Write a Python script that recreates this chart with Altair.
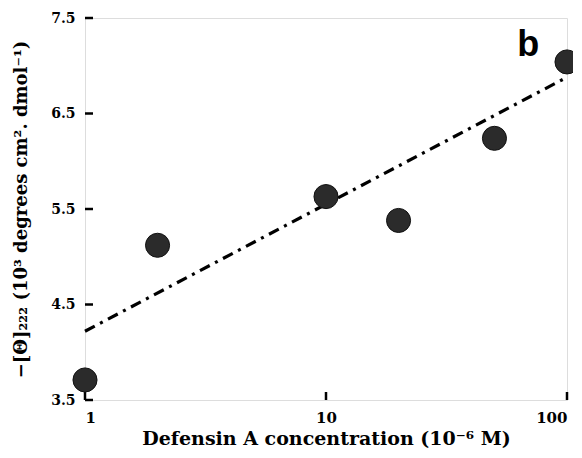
import altair as alt
import pandas as pd

conc = [1, 2, 10, 20, 50, 100]
theta = [3.71, 5.12, 5.63, 5.38, 6.24, 7.04]
fit_x = [1, 100]
fit_y = [4.22, 6.88]
y_ticks = [3.5, 4.5, 5.5, 6.5, 7.5]
x_ticks = [1, 10, 100]

pts = pd.DataFrame({"c": conc, "t": theta})
fit = pd.DataFrame({"c": fit_x, "t": fit_y})
yt = pd.DataFrame({"t": y_ticks})
xt = pd.DataFrame({"c": x_ticks})

FONT = "DejaVu Serif"
xs = alt.Scale(type="log", domain=[1, 100], nice=False)
ys = alt.Scale(domain=[3.5, 7.5], nice=False, zero=False)

xax = alt.Axis(values=x_ticks, format="d", ticks=False, domain=False, grid=False,
               labelFont=FONT, labelFontWeight="bold", labelFontSize=15, labelColor="black",
               labelPadding=10, title="Defensin A concentration (10⁻⁶ M)",
               titleFont=FONT, titleFontWeight="bold", titleFontSize=19, titleColor="black",
               titlePadding=4)
yax = alt.Axis(values=y_ticks, format=".1f", ticks=False, domain=False, grid=False,
               labelFont=FONT, labelFontWeight="bold", labelFontSize=14, labelColor="black",
               labelPadding=10, title="−[Θ]₂₂₂ (10³ degrees cm². dmol⁻¹)",
               titleFont=FONT, titleFontWeight="bold", titleFontSize=18, titleColor="black",
               titlePadding=20)

base_x = alt.X("c:Q", scale=xs, axis=xax)
base_y = alt.Y("t:Q", scale=ys, axis=yax)

line = alt.Chart(fit).mark_line(color="black", strokeWidth=3.2,
                                strokeDash=[11, 6, 3, 6]).encode(x=base_x, y=base_y)
points = alt.Chart(pts).mark_circle(size=580, color="#2b2b2b", opacity=1,
                                    stroke="#111", strokeWidth=1).encode(
    x=alt.X("c:Q", scale=xs), y=alt.Y("t:Q", scale=ys))
ytick = alt.Chart(yt).mark_rule(color="black", strokeWidth=2.5).encode(
    y=alt.Y("t:Q", scale=ys), x=alt.value(0), x2=alt.value(8))
xtick = alt.Chart(xt).mark_rule(color="black", strokeWidth=2.5).encode(
    x=alt.X("c:Q", scale=xs), y=alt.value(382), y2=alt.value(374))
label = alt.Chart(pd.DataFrame({"c": [69], "t": [7.22], "s": ["b"]})).mark_text(
    font="Liberation Sans", fontWeight="bold", fontSize=36, color="black",
    align="center", baseline="middle").encode(
    x=alt.X("c:Q", scale=xs), y=alt.Y("t:Q", scale=ys), text="s:N")

chart = alt.layer(line, ytick, xtick, points, label).properties(
    width=482, height=382,
    autosize=alt.AutoSizeParams(type="none"),
    padding={"left": 77, "top": 10, "right": 6, "bottom": 50},
).configure_view(stroke="black", strokeWidth=2.8).configure(background="white")

chart.save("out.html", embed_options={"renderer": "svg", "actions": False})
